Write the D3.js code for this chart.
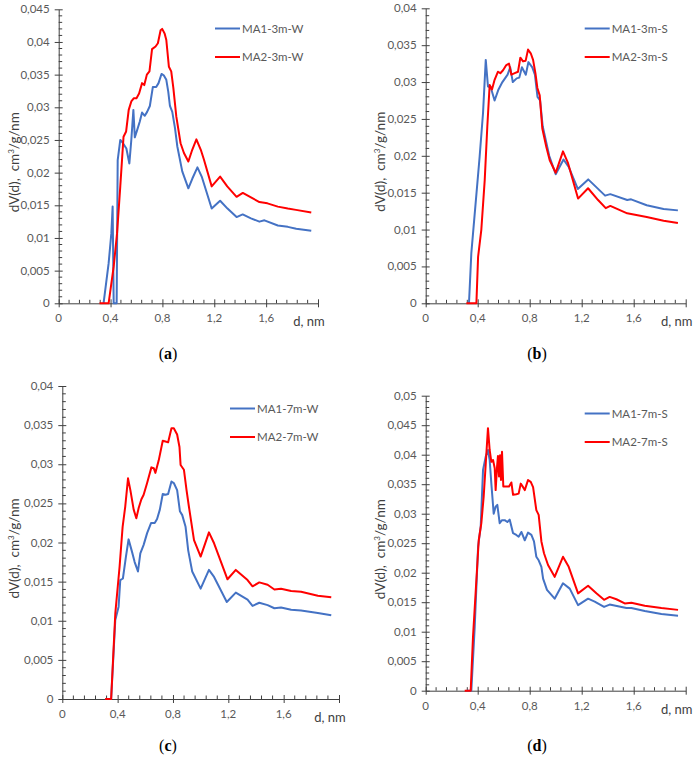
<!DOCTYPE html>
<html>
<head>
<meta charset="utf-8">
<script src="https://cdn.jsdelivr.net/npm/d3@7"></script>
<style>
  body { margin: 0; background: #fff; }
  svg text { font-family: Lato, "Liberation Sans", sans-serif; }
</style>
</head>
<body>
<svg id="chart" width="696" height="771"></svg>
<script>
// series data: [d (nm), dV(d)]
const a_MA1 = [[0.346,0],[0.385,0.0061],[0.406,0.0107],[0.416,0.0148],[0.424,0],[0.447,0],[0.455,0.0219],[0.475,0.025],[0.496,0.0245],[0.522,0.0237],[0.545,0.0214],[0.56,0.025],[0.576,0.0296],[0.587,0.0254],[0.605,0.0265],[0.625,0.0278],[0.643,0.0292],[0.664,0.0287],[0.682,0.0293],[0.703,0.0302],[0.726,0.0331],[0.752,0.0331],[0.77,0.0337],[0.793,0.0351],[0.81,0.0349],[0.83,0.0342],[0.845,0.0324],[0.858,0.0302],[0.876,0.0293],[0.897,0.0268],[0.915,0.024],[0.953,0.0202],[1.0,0.0176],[1.031,0.0191],[1.07,0.0208],[1.103,0.0194],[1.18,0.0145],[1.245,0.0157],[1.302,0.0145],[1.372,0.0132],[1.419,0.0136],[1.483,0.013],[1.548,0.0125],[1.587,0.0127],[1.69,0.0119],[1.767,0.0117],[1.832,0.0114],[1.948,0.0111]];
const a_MA2 = [[0.315,0],[0.385,0],[0.424,0.0056],[0.45,0.0107],[0.475,0.0179],[0.5,0.0255],[0.52,0.0263],[0.54,0.0296],[0.56,0.0309],[0.58,0.0314],[0.6,0.0314],[0.62,0.0321],[0.643,0.0337],[0.66,0.0334],[0.68,0.035],[0.7,0.0355],[0.72,0.0389],[0.747,0.0393],[0.765,0.0398],[0.786,0.0418],[0.798,0.042],[0.817,0.0413],[0.83,0.0403],[0.85,0.0362],[0.868,0.0355],[0.884,0.033],[0.907,0.0286],[0.94,0.0245],[0.966,0.023],[1.0,0.0217],[1.03,0.0235],[1.062,0.0251],[1.096,0.0235],[1.12,0.022],[1.18,0.0179],[1.245,0.0194],[1.3,0.0179],[1.372,0.0163],[1.42,0.0169],[1.483,0.0162],[1.548,0.0155],[1.61,0.0153],[1.69,0.0148],[1.767,0.0145],[1.83,0.0143],[1.948,0.0139]];

const b_MA1 = [[0.333,0],[0.351,0.0068],[0.415,0.0199],[0.441,0.0258],[0.462,0.033],[0.479,0.0294],[0.5,0.0293],[0.53,0.0275],[0.56,0.029],[0.59,0.03],[0.63,0.031],[0.65,0.032],[0.67,0.03],[0.7,0.0305],[0.72,0.0306],[0.74,0.032],[0.77,0.031],[0.79,0.0327],[0.82,0.032],[0.84,0.031],[0.86,0.028],[0.88,0.0275],[0.9,0.024],[0.95,0.02],[1.0,0.0175],[1.06,0.0195],[1.1,0.0185],[1.17,0.0155],[1.25,0.0168],[1.38,0.0146],[1.42,0.0148],[1.55,0.014],[1.58,0.0141],[1.7,0.0133],[1.83,0.0128],[1.94,0.0126]];
const b_MA2 = [[0.313,0],[0.39,0],[0.403,0.0063],[0.428,0.01],[0.454,0.0167],[0.474,0.024],[0.492,0.0296],[0.51,0.029],[0.53,0.0303],[0.556,0.0314],[0.574,0.0312],[0.595,0.0316],[0.62,0.0323],[0.641,0.0325],[0.659,0.031],[0.685,0.0312],[0.71,0.0314],[0.728,0.0333],[0.749,0.0328],[0.769,0.0329],[0.787,0.0344],[0.808,0.0339],[0.826,0.033],[0.844,0.0312],[0.859,0.0292],[0.877,0.0282],[0.897,0.0237],[0.928,0.0212],[0.954,0.0194],[1.0,0.0177],[1.056,0.0206],[1.095,0.019],[1.172,0.0142],[1.249,0.0156],[1.326,0.014],[1.385,0.0129],[1.42,0.0132],[1.55,0.0122],[1.58,0.0121],[1.7,0.0117],[1.83,0.0112],[1.94,0.0109]];

const c_MA1 = [[0.31,0],[0.353,0],[0.383,0.0101],[0.407,0.0118],[0.419,0.0152],[0.438,0.0154],[0.46,0.0182],[0.479,0.0204],[0.504,0.0188],[0.523,0.0175],[0.547,0.0163],[0.564,0.0186],[0.588,0.0197],[0.613,0.0212],[0.642,0.0225],[0.668,0.0225],[0.685,0.023],[0.705,0.0242],[0.726,0.0262],[0.746,0.0261],[0.765,0.0262],[0.789,0.0278],[0.806,0.0276],[0.83,0.0267],[0.85,0.024],[0.867,0.0235],[0.891,0.022],[0.91,0.019],[0.939,0.0163],[1.0,0.0141],[1.06,0.0165],[1.097,0.0156],[1.189,0.0124],[1.254,0.0136],[1.339,0.0127],[1.375,0.0119],[1.424,0.0123],[1.484,0.012],[1.533,0.0116],[1.581,0.0117],[1.654,0.0114],[1.726,0.0113],[1.847,0.011],[1.944,0.0107]];
const c_MA2 = [[0.31,0],[0.353,0],[0.383,0.0109],[0.414,0.0169],[0.436,0.022],[0.455,0.0246],[0.475,0.0282],[0.492,0.0267],[0.516,0.0242],[0.535,0.0231],[0.552,0.0244],[0.571,0.0255],[0.588,0.0261],[0.613,0.0276],[0.644,0.0296],[0.661,0.0295],[0.673,0.0289],[0.697,0.0305],[0.726,0.033],[0.746,0.0329],[0.765,0.0328],[0.789,0.0346],[0.806,0.0346],[0.83,0.0338],[0.847,0.0322],[0.855,0.0299],[0.879,0.0293],[0.898,0.0267],[0.915,0.0246],[0.952,0.0203],[1.0,0.0182],[1.06,0.0213],[1.097,0.0199],[1.194,0.0153],[1.254,0.0165],[1.339,0.0152],[1.375,0.0144],[1.424,0.0149],[1.484,0.0146],[1.533,0.014],[1.581,0.0141],[1.654,0.0138],[1.726,0.0137],[1.847,0.0132],[1.944,0.013]];

const d_MA1 = [[0.313,0],[0.351,0],[0.377,0.0108],[0.403,0.0244],[0.423,0.0278],[0.441,0.0374],[0.462,0.0397],[0.479,0.0408],[0.492,0.0391],[0.505,0.0351],[0.523,0.03],[0.538,0.0312],[0.551,0.0315],[0.569,0.0284],[0.587,0.0289],[0.608,0.0289],[0.628,0.0286],[0.646,0.029],[0.672,0.0267],[0.697,0.0264],[0.715,0.0261],[0.736,0.0269],[0.762,0.0255],[0.787,0.0268],[0.813,0.0264],[0.833,0.0253],[0.851,0.0227],[0.869,0.0221],[0.89,0.021],[0.903,0.019],[0.933,0.0171],[0.992,0.0156],[1.056,0.0182],[1.108,0.0173],[1.172,0.0145],[1.249,0.0156],[1.3,0.0151],[1.372,0.0142],[1.415,0.0146],[1.544,0.014],[1.582,0.014],[1.685,0.0135],[1.813,0.013],[1.941,0.0127]];
const d_MA2 = [[0.3,0],[0.346,0],[0.364,0.0092],[0.408,0.0255],[0.428,0.0284],[0.446,0.0329],[0.462,0.0385],[0.479,0.0445],[0.492,0.0408],[0.505,0.0388],[0.518,0.0391],[0.531,0.0377],[0.538,0.034],[0.549,0.038],[0.556,0.0398],[0.564,0.0363],[0.572,0.0399],[0.579,0.0357],[0.587,0.0405],[0.597,0.0346],[0.62,0.0346],[0.641,0.0346],[0.659,0.0353],[0.672,0.0332],[0.697,0.0333],[0.715,0.0334],[0.731,0.0351],[0.749,0.0345],[0.762,0.034],[0.787,0.0357],[0.808,0.0354],[0.826,0.0345],[0.851,0.0306],[0.869,0.0298],[0.89,0.0253],[0.91,0.0233],[0.941,0.0213],[0.992,0.0193],[1.056,0.0227],[1.1,0.021],[1.172,0.0165],[1.249,0.0178],[1.313,0.0165],[1.372,0.0154],[1.415,0.0159],[1.467,0.0155],[1.531,0.0148],[1.582,0.0149],[1.685,0.0144],[1.813,0.014],[1.941,0.0137]];

const xTicks = [0, 0.4, 0.8, 1.2, 1.6];
const panelLabels = ["(a)", "(b)", "(c)", "(d)"];
const seriesNames = [
  ["MA1-3m-W", "MA2-3m-W"],
  ["MA1-3m-S", "MA2-3m-S"],
  ["MA1-7m-W", "MA2-7m-W"],
  ["MA1-7m-S", "MA2-7m-S"]
];
const yMax = [0.045, 0.04, 0.04, 0.05];
const seriesColors = ["#4472C4", "#FF0000"];

const svg = d3.select("#chart");
const fmt = v => (v === 0 ? "0" : d3.format(".3~f")(v)).replace(".", ",");

const panels = [
  { data: [a_MA1, a_MA2], x0: 58.7, x1: 318, y0: 303.3, y1: 9.3, lx: 215, ly: 28.5, titleX: 15, capX: 168, capY: 359 },
  { data: [b_MA1, b_MA2], x0: 425.7, x1: 685.7, y0: 303.3, y1: 8.3, lx: 584.7, ly: 28.5, titleX: 381, capX: 537, capY: 359 },
  { data: [c_MA1, c_MA2], x0: 62.3, x1: 339, y0: 699, y1: 386, lx: 230, ly: 408.5, titleX: 15, capX: 168, capY: 751 },
  { data: [d_MA1, d_MA2], x0: 425.7, x1: 685.7, y0: 690.7, y1: 395.7, lx: 584.7, ly: 413.5, titleX: 381, capX: 537, capY: 751 }
];

panels.forEach(function (p, i) {
  const x = d3.scaleLinear().domain([0, 2]).range([p.x0, p.x1]);
  const y = d3.scaleLinear().domain([0, yMax[i]]).range([p.y0, p.y1]);
  const g = svg.append("g");

  // minor ticks (inside)
  const xMinor = d3.range(0, 2.0001, 0.08).filter(v => Math.abs(v / 0.4 - Math.round(v / 0.4)) > 1e-6);
  g.selectAll(".xm").data(xMinor).enter().append("line")
    .attr("x1", d => x(d)).attr("x2", d => x(d))
    .attr("y1", p.y0).attr("y2", p.y0 - 3.5)
    .attr("stroke", "#404040").attr("stroke-width", 1);
  const yMinor = d3.range(0, yMax[i] + 1e-9, 0.001).filter(v => Math.abs(v / 0.005 - Math.round(v / 0.005)) > 1e-6);
  g.selectAll(".ym").data(yMinor).enter().append("line")
    .attr("x1", p.x0).attr("x2", p.x0 + 3.5)
    .attr("y1", d => y(d)).attr("y2", d => y(d))
    .attr("stroke", "#404040").attr("stroke-width", 1);

  // axes with crossing major ticks
  const xAxis = g.append("g").attr("transform", "translate(0," + p.y0 + ")")
    .call(d3.axisBottom(x).tickValues(d3.range(0, 2.0001, 0.4)).tickSizeInner(4).tickSizeOuter(0).tickFormat(""));
  xAxis.selectAll(".tick line").attr("y1", -4);
  const yAxis = g.append("g").attr("transform", "translate(" + p.x0 + ",0)")
    .call(d3.axisLeft(y).ticks(yMax[i] / 0.005).tickSizeInner(4).tickSizeOuter(0).tickFormat(""));
  yAxis.selectAll(".tick line").attr("x1", 4);
  g.selectAll(".domain, .tick line").attr("stroke", "#404040");

  // tick labels
  g.selectAll(".xl").data(xTicks).enter().append("text")
    .attr("x", d => x(d)).attr("y", p.y0 + 19)
    .attr("text-anchor", "middle").attr("font-size", 11.5).attr("fill", "#595959")
    .text(fmt);
  g.append("text").attr("x", x(2) - 9).attr("y", p.y0 + 23)
    .attr("text-anchor", "middle").attr("font-size", 13).attr("fill", "#404040")
    .text("d, nm");
  g.selectAll(".yl").data(y.ticks(yMax[i] / 0.005)).enter().append("text")
    .attr("x", p.x0 - 9).attr("y", d => y(d) + 4)
    .attr("text-anchor", "end").attr("font-size", 11.5).attr("fill", "#595959")
    .text(fmt);

  // axis title
  const cy = (p.y0 + p.y1) / 2 + 6;
  g.append("text")
    .attr("transform", "translate(" + (p.titleX + 4) + "," + cy + ") rotate(-90)")
    .attr("text-anchor", "middle").attr("font-size", 13.5).attr("fill", "#404040")
    .html("dV(d),&#160; cm<tspan dy='-5' font-size='8'>3</tspan><tspan dy='5'>/g/nm</tspan>");

  // lines
  const line = d3.line().x(d => x(d[0])).y(d => y(d[1]));
  p.data.forEach(function (s, k) {
    g.append("path").datum(s).attr("d", line)
      .attr("fill", "none").attr("stroke", seriesColors[k])
      .attr("stroke-width", 2).attr("stroke-linejoin", "round");
  });

  // legend
  seriesNames[i].forEach(function (name, k) {
    const ly = p.ly + k * 28.5;
    g.append("line").attr("x1", p.lx).attr("x2", p.lx + 25).attr("y1", ly).attr("y2", ly)
      .attr("stroke", seriesColors[k]).attr("stroke-width", 2);
    g.append("text").attr("x", p.lx + 27).attr("y", ly + 4)
      .attr("font-size", 11.5).attr("fill", "#595959").text(name);
  });

  // caption
  g.append("text").attr("x", p.capX).attr("y", p.capY)
    .attr("text-anchor", "middle").attr("font-size", 16)
    .style("font-family", "'Liberation Serif', serif").attr("fill", "#000")
    .html("(<tspan font-weight='bold'>" + panelLabels[i].slice(1, 2) + "</tspan>)");
});
</script>
</body>
</html>
